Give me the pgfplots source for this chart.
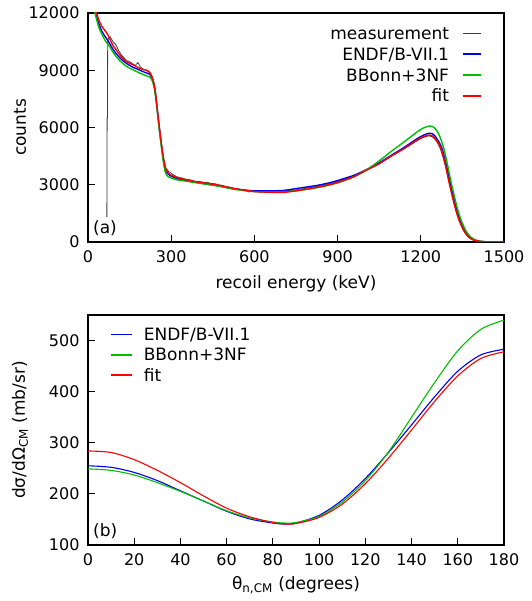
\documentclass[border=0pt]{standalone}
\usepackage{fontspec}
\setmainfont{DejaVu Sans}
\usepackage{pgfplots}
\pgfplotsset{compat=1.18}
\definecolor{gpblue}{RGB}{0,0,240}
\definecolor{gpgreen}{RGB}{0,190,0}
\definecolor{gpred}{RGB}{255,0,0}
\definecolor{gpgray}{RGB}{60,60,60}
\pgfplotsset{
  every axis/.append style={
    scale only axis, width=416pt,
    axis line style={line width=1.2pt},
    tick style={line width=0.9pt, black},
    major tick length=7pt,
    tick align=inside,
    xtick pos=bottom, ytick pos=left,
    scaled ticks=false,
    /pgf/number format/assume math mode=true,
    /pgf/number format/1000 sep={},
    tick label style={font=\fontsize{16}{18}\selectfont},
    xticklabel style={yshift=-5pt},
    yticklabel style={xshift=-5pt},
    xlabel style={font=\fontsize{17}{19}\selectfont, at={(axis description cs:0.5,0)}, anchor=center},
    ylabel style={font=\fontsize{17}{19}\selectfont, at={(axis description cs:-0.1635,0.5)}, anchor=center, rotate=0},
    legend style={draw=none, fill=none, inner sep=0pt, font=\fontsize{17}{19}\selectfont, row sep=3pt,
      nodes={inner sep=1pt}},
  },
}
\begin{document}
\begin{tikzpicture}
\begin{axis}[
  height=229pt,
  xmin=0, xmax=1500, ymin=0, ymax=12000,
  xtick={0,300,600,900,1200,1500},
  ytick={0,3000,6000,9000,12000},
  xlabel={recoil energy (keV)},
  ylabel={counts},
  xlabel style={yshift=-42pt},
  legend cell align=right,
  legend plot pos=right,
  legend image code/.code={\draw[#1] (0pt,0pt) -- (18pt,0pt);},
  legend style={at={(rel axis cs:1,1)}, anchor=north east, xshift=-22pt, yshift=-12pt, row sep=4pt},
]
\addplot[gpgray, line width=0.8pt] coordinates {
(68,1300)(69,6500)(70,6500)(71,10600)
(80,10750)(90,10500)(100,10350)(110,10050)(120,9800)(130,9650)(140,9500)(150,9450)(160,9350)(170,9250)(180,9400)(190,9150)(200,9050)(210,9000)(220,8900)(230,8600)(240,8050)(250,6900)(260,5600)(270,4600)(280,3900)(290,3700)(300,3600)(310,3500)(320,3420)(330,3380)(340,3350)(350,3300)(360,3280)(370,3250)(380,3200)(390,3180)(400,3170)(410,3150)(420,3120)(430,3130)(440,3080)(450,3060)(460,3050)(470,3000)(480,2980)(490,2940)(500,2900)(510,2880)(520,2840)(530,2800)(540,2780)(550,2750)(560,2730)(570,2700)(580,2620)(590,2680)(600,2650)(610,2670)(620,2630)(630,2650)(640,2600)(650,2640)(660,2620)(670,2650)(680,2630)(690,2660)(700,2640)(710,2670)(720,2690)(730,2700)(740,2720)(750,2730)(760,2760)(770,2780)(780,2800)(790,2830)(800,2850)(810,2870)(820,2900)(830,2910)(840,2950)(850,2980)(860,3020)(870,3050)(880,3080)(890,3120)(900,3170)(910,3200)(920,3260)(930,3320)(940,3360)(950,3420)(960,3470)(970,3530)(980,3600)(990,3660)(1000,3740)(1010,3800)(1020,3880)(1030,3950)(1040,4030)(1050,4100)(1060,4200)(1070,4280)(1080,4370)(1090,4450)(1100,4550)(1110,4620)(1120,4720)(1130,4800)(1140,4880)(1150,4980)(1160,5060)(1170,5150)(1180,5250)(1190,5330)(1200,5420)(1210,5480)(1220,5530)(1230,5560)(1240,5520)(1250,5400)(1260,5200)(1270,4900)(1280,4450)(1290,3900)(1300,3250)(1310,2600)(1320,2000)(1330,1450)(1340,1050)(1350,720)(1360,450)(1370,280)(1380,160)(1390,90)(1400,50)(1410,30)(1420,15)(1430,10)(1440,5)(1450,3)(1460,2)(1470,0)(1480,0)(1490,0)(1500,0)
};
\addlegendentry{\strut measurement\rule{12pt}{0pt}}
\addplot[gpblue, line width=1.4pt, smooth, tension=0.4, legend image post style={line width=1.8pt}] coordinates {
(20,12700)(27,12000)(40,11400)(50,11050)(60,10800)(70,10600)(80,10350)(90,10100)(100,9900)(115,9650)(130,9450)(145,9300)(163,9150)(180,9050)(195,8950)(212,8850)(222,8800)(230,8650)(236,8400)(242,7950)(248,7200)(253,6500)(260,5650)(266,4950)(272,4300)(278,3850)(284,3650)(290,3550)(300,3450)(320,3330)(356,3220)(400,3100)(464,2960)(524,2800)(560,2730)(600,2680)(650,2680)(704,2700)(760,2820)(824,2960)(870,3100)(909,3260)(960,3500)(1005,3800)(1050,4150)(1089,4500)(1140,4960)(1185,5400)(1210,5600)(1230,5700)(1243,5660)(1254,5500)(1266,5230)(1278,4850)(1291,4100)(1303,3300)(1315,2550)(1326,1900)(1341,1180)(1357,650)(1373,310)(1393,110)(1420,25)(1460,5)(1500,0)
};
\addlegendentry{\strut ENDF/B-VII.1\rule{12pt}{0pt}}
\addplot[gpgreen, line width=1.4pt, smooth, tension=0.4, legend image post style={line width=1.8pt}] coordinates {
(20,12400)(25,12000)(40,11200)(50,10900)(60,10600)(70,10400)(80,10200)(90,9950)(100,9750)(115,9500)(130,9300)(145,9150)(163,9020)(180,8900)(195,8800)(212,8700)(222,8650)(230,8500)(236,8250)(242,7800)(248,7100)(253,6400)(260,5500)(266,4800)(272,4150)(278,3700)(284,3500)(290,3420)(300,3350)(320,3260)(356,3180)(400,3080)(464,2940)(524,2770)(560,2700)(600,2640)(650,2620)(704,2620)(760,2700)(824,2840)(870,2980)(909,3140)(960,3420)(1005,3790)(1050,4250)(1089,4700)(1140,5250)(1185,5750)(1210,5980)(1233,6080)(1248,6000)(1260,5780)(1272,5400)(1284,4850)(1297,4000)(1309,3150)(1321,2400)(1332,1750)(1347,1080)(1363,580)(1380,260)(1400,90)(1430,15)(1470,3)(1500,0)
};
\addlegendentry{\strut BBonn+3NF\rule{12pt}{0pt}}
\addplot[gpred, line width=1.4pt, smooth, tension=0.4, legend image post style={line width=1.8pt}] coordinates {
(20,12900)(31,12000)(40,11600)(50,11300)(60,11100)(70,10900)(80,10600)(90,10300)(100,10100)(115,9800)(130,9550)(145,9400)(163,9280)(180,9150)(195,9050)(212,9000)(222,8900)(230,8700)(236,8400)(242,7950)(248,7200)(253,6550)(260,5700)(266,5000)(272,4400)(278,3950)(284,3720)(290,3600)(300,3500)(320,3380)(356,3250)(400,3130)(464,2990)(524,2810)(560,2720)(600,2640)(650,2610)(704,2600)(760,2700)(824,2860)(870,3000)(909,3160)(960,3430)(1005,3770)(1050,4100)(1089,4470)(1140,4900)(1185,5340)(1210,5520)(1227,5600)(1240,5580)(1251,5430)(1263,5200)(1275,4820)(1288,4100)(1300,3250)(1312,2500)(1323,1850)(1338,1150)(1354,630)(1370,300)(1390,105)(1420,20)(1460,5)(1500,0)
};
\addlegendentry{\strut fit\rule{12pt}{0pt}}
\node[anchor=south west, inner sep=0pt, font=\fontsize{17}{19}\selectfont] at (rel axis cs:0.012,0.025) {(a)};
\end{axis}

\begin{axis}[
  at={(0pt,-303pt)},
  height=230pt,
  xmin=0, xmax=180, ymin=100, ymax=550,
  xtick={0,20,...,180},
  ytick={100,200,...,500},
  xlabel={θ\textsubscript{n,CM} (degrees)},
  ylabel={dσ/dΩ\textsubscript{CM} (mb/sr)},
  xlabel style={yshift=-40pt},
  legend cell align=left,
  legend image code/.code={\draw[#1] (0pt,0pt) -- (21pt,0pt);},
  legend style={at={(rel axis cs:0,1)}, anchor=north west, xshift=22pt, yshift=-11pt, row sep=3.5pt},
]
\addplot[gpblue, line width=1.1pt, smooth, legend image post style={line width=1.6pt}] coordinates {
(0,255)(10,252)(20,242)(30,226)(40,206)(50,186)(60,166)(70,151)(80,143)(85,141)(90,143)(100,158)(110,188)(120,230)(130,281)(140,335)(150,390)(160,440)(170,472)(180,483)
};
\addlegendentry{\strut\hspace{10pt}ENDF/B-VII.1}
\addplot[gpgreen, line width=1.1pt, smooth, legend image post style={line width=1.6pt}] coordinates {
(0,249)(10,246)(20,237)(30,222)(40,205)(50,186)(60,167)(70,153)(80,145)(85,143)(90,144)(100,156)(110,184)(120,226)(130,282)(140,350)(150,418)(160,480)(170,522)(180,540)
};
\addlegendentry{\strut\hspace{10pt}BBonn+3NF}
\addplot[gpred, line width=1.1pt, smooth, legend image post style={line width=1.6pt}] coordinates {
(0,284)(10,281)(20,267)(30,246)(40,222)(50,196)(60,172)(70,155)(80,144)(85,141)(90,142)(100,154)(110,180)(120,220)(130,270)(140,325)(150,381)(160,431)(170,465)(180,478)
};
\addlegendentry{\strut\hspace{10pt}fit}
\node[anchor=south west, inner sep=0pt, font=\fontsize{17}{19}\selectfont] at (rel axis cs:0.012,0.025) {(b)};
\end{axis}
\pgfresetboundingbox
\path[use as bounding box] (-88pt,-359pt) rectangle (443pt,242pt);
\end{tikzpicture}
\end{document}
